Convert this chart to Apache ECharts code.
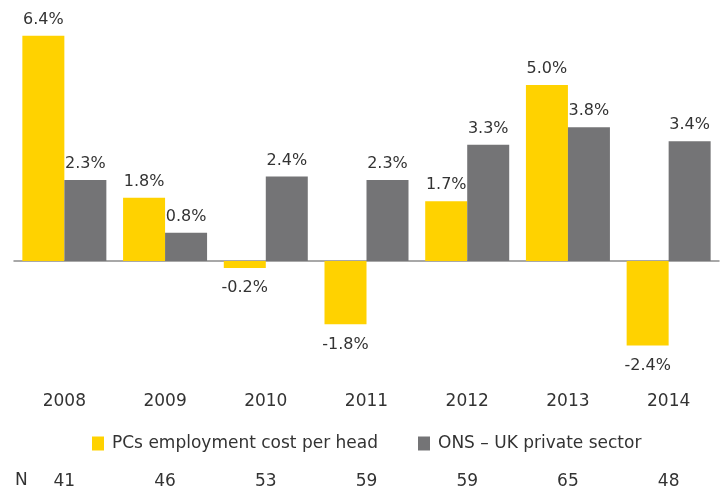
<!DOCTYPE html>
<html>
<head>
<meta charset="utf-8">
<script src="https://cdn.jsdelivr.net/npm/echarts@6/dist/echarts.min.js"></script>
<style>html,body{margin:0;padding:0;background:#fff}#c{width:724px;height:493px}</style>
</head>
<body>
<div id="c"></div>
<script>
var years = ['2008','2009','2010','2011','2012','2013','2014'];
var pcsCost = [6.4, 1.8, -0.2, -1.8, 1.7, 5.0, -2.4];
var onsPrivate = [2.3, 0.8, 2.4, 2.3, 3.3, 3.8, 3.4];
var nCounts = ['41','46','53','59','59','65','48'];
var seriesNames = ['PCs employment cost per head', 'ONS \u2013 UK private sector'];

var FONT = 'DejaVu Sans';
function items(arr) {
  return arr.map(function (v) {
    return { value: v, label: { position: v < 0 ? 'bottom' : 'top', distance: v < 0 ? 12 : 8 } };
  });
}
var labelStyle = {
  show: true, fontFamily: FONT, fontSize: 16, color: '#333',
  formatter: function (p) { return p.value.toFixed(1) + '%'; }
};

var chart = echarts.init(document.getElementById('c'));
chart.setOption({
  animation: false,
  backgroundColor: '#fff',
  grid: { left: 14, right: 5, top: 14.6, height: 352, containLabel: false },
  legend: {
    left: 87, top: 430, itemWidth: 12, itemHeight: 14, itemGap: 40,
    icon: 'rect',
    textStyle: { fontFamily: FONT, fontSize: 17, color: '#333', padding: [0, 0, 0, 3] },
    data: seriesNames
  },
  xAxis: [
    { type: 'category', data: years, axisLine: { onZero: true, lineStyle: { color: '#8c8c8c', width: 1.5 } },
      axisTick: { show: false }, axisLabel: { show: false } },
    { type: 'category', data: years, position: 'bottom', axisLine: { show: false, onZero: false },
      axisTick: { show: false }, axisLabel: { margin: 26, fontFamily: FONT, fontSize: 17, color: '#333' } },
    { type: 'category', data: nCounts, position: 'bottom', offset: 80, axisLine: { show: false, onZero: false },
      axisTick: { show: false }, axisLabel: { margin: 26, fontFamily: FONT, fontSize: 17, color: '#333' } }
  ],
  yAxis: { type: 'value', min: -3, max: 7, show: false, splitLine: { show: false } },
  graphic: [
    { type: 'text', left: 15, top: 472, style: { text: 'N', font: '17px "DejaVu Sans"', fill: '#333' } }
  ],
  series: [
    { name: seriesNames[0], type: 'bar', barWidth: 42, barGap: '0%', itemStyle: { color: '#FFD200' },
      label: labelStyle, data: items(pcsCost) },
    { name: seriesNames[1], type: 'bar', barWidth: 42, barGap: '0%', itemStyle: { color: '#747476' },
      label: labelStyle, data: items(onsPrivate) }
  ]
});
</script>
</body>
</html>
